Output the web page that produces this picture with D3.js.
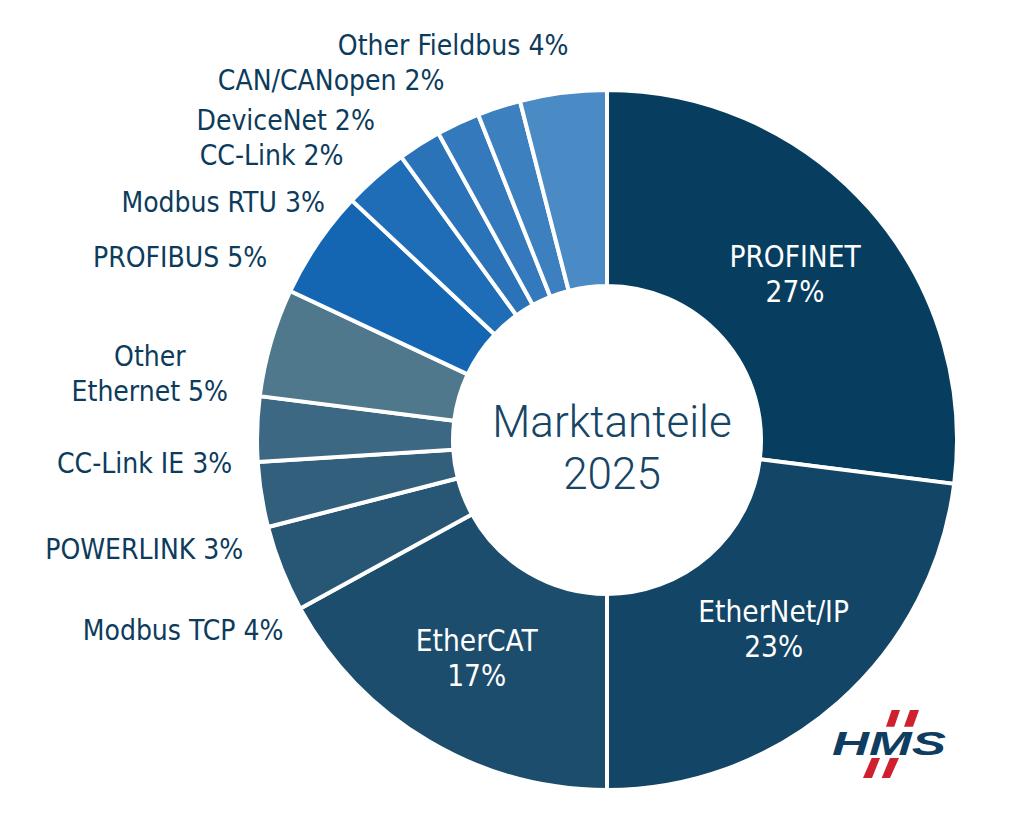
<!DOCTYPE html>
<html>
<head>
<meta charset="utf-8">
<script src="https://cdn.jsdelivr.net/npm/d3@7"></script>
<style>
  html, body { margin: 0; padding: 0; background: #fff; }
  svg { display: block; }
  .label { font-family: "Liberation Sans Narrow", "DejaVu Sans Condensed", Roboto, sans-serif; font-size: 28px; }
  .label.inside { font-size: 29.5px; }
  .center-title { font-family: Roboto, "Liberation Sans Narrow", sans-serif; font-weight: 300; font-size: 44px; }
</style>
</head>
<body>
<svg id="chart"></svg>
<script>
// Market shares 2025 (per cent), clockwise from 12 o'clock
const categories = ["PROFINET", "EtherNet/IP", "EtherCAT", "Modbus TCP", "POWERLINK", "CC-Link IE",
    "Other Ethernet", "PROFIBUS", "Modbus RTU", "CC-Link", "DeviceNet", "CAN/CANopen", "Other Fieldbus"];
const shares = [27, 23, 17, 4, 3, 3, 5, 5, 3, 2, 2, 2, 4];
const sliceColors = ["#073e5f", "#134566", "#1d4d6c", "#285775", "#325f7c", "#3d6883", "#4f788d",
    "#1466b3", "#1f6db7", "#2a73b9", "#3479bc", "#3d80c0", "#4b8bc5"];
const labelLines = [["PROFINET", "27%"], ["EtherNet/IP", "23%"], ["EtherCAT", "17%"],
    ["Modbus TCP 4%"], ["POWERLINK 3%"], ["CC-Link IE 3%"], ["Other", "Ethernet 5%"], ["PROFIBUS 5%"],
    ["Modbus RTU 3%"], ["CC-Link 2%"], ["DeviceNet 2%"], ["CAN/CANopen 2%"], ["Other Fieldbus 4%"]];

// label layout: inside labels sit near the centroid, outside ones near the outer rim
const labelInside = [true, true, true, false, false, false, false, false, false, false, false, false, false];
const labelAnchor = ["middle", "middle", "middle", "end", "end", "end", "middle", "end", "end", "end", "end", "end", "end"];
const labelNudge = [[-1, -6], [0, -7], [-2, -6], [0, 72], [-20, 65], [-27, 44], [-123, 23],
    [-52, 23], [-52, 33], [-77, 19], [-84, 5], [-55, -19], [5, -40]];

const width = 1024, height = 835;
const cx = 607, cy = 440;
const outerR = 350, innerR = 154;
const lineGap = 35;

const svg = d3.select("#chart")
    .attr("width", width)
    .attr("height", height)
    .attr("viewBox", `0 0 ${width} ${height}`);

const g = svg.append("g").attr("transform", `translate(${cx},${cy})`);

const pie = d3.pie().sort(null).value(d => d);
const arcs = pie(shares);

const arc = d3.arc().innerRadius(innerR).outerRadius(outerR);
const rimArc = d3.arc().innerRadius(outerR - 2).outerRadius(outerR - 2);

// slices
g.selectAll("path.slice")
    .data(arcs)
    .join("path")
    .attr("class", "slice")
    .attr("d", arc)
    .attr("fill", (d, i) => sliceColors[i])
    .attr("stroke", "#fff")
    .attr("stroke-width", 4)
    .attr("stroke-linejoin", "miter");

// labels
g.selectAll("text.label")
    .data(arcs)
    .join("text")
    .attr("class", (d, i) => labelInside[i] ? "label inside" : "label")
    .attr("fill", (d, i) => labelInside[i] ? "#fff" : "#0d3b5c")
    .attr("text-anchor", (d, i) => labelAnchor[i])
    .each(function (d, i) {
        const base = labelInside[i] ? arc.centroid(d) : rimArc.centroid(d);
        const x = base[0] + labelNudge[i][0];
        const y = base[1] + labelNudge[i][1];
        d3.select(this).selectAll("tspan")
            .data(labelLines[i])
            .join("tspan")
            .attr("x", x)
            .attr("y", (t, j) => y + j * lineGap)
            .text(t => t);
    });

// centre title
const title = g.append("text")
    .attr("class", "center-title")
    .attr("fill", "#164566")
    .attr("text-anchor", "middle");
title.append("tspan").attr("x", 5).attr("y", -3).text("Marktanteile");
title.append("tspan").attr("x", 5).attr("y", 49).text("2025");

// HMS logo
const logo = svg.append("g").attr("transform", "translate(832,708)");
const red = "#cf2030";
const slashes = [
    [[59.7, 2], [68, 2], [62.3, 18.7], [54, 18.7]],
    [[78, 2], [87, 2], [81, 18.7], [72, 18.7]],
    [[39.7, 50], [48, 50], [40, 70], [31, 70]],
    [[58, 50], [67, 50], [58, 70], [49.7, 70]]
];
logo.selectAll("polygon")
    .data(slashes)
    .join("polygon")
    .attr("points", d => d.map(p => p.join(",")).join(" "))
    .attr("fill", red);
logo.append("text")
    .attr("x", 0)
    .attr("y", 47)
    .attr("textLength", 114)
    .attr("lengthAdjust", "spacingAndGlyphs")
    .attr("font-family", "Liberation Sans, Arial, sans-serif")
    .attr("font-weight", 900)
    .attr("font-style", "italic")
    .attr("font-size", 34)
    .attr("fill", "#0f3d62")
    .text("HMS");
</script>
</body>
</html>
